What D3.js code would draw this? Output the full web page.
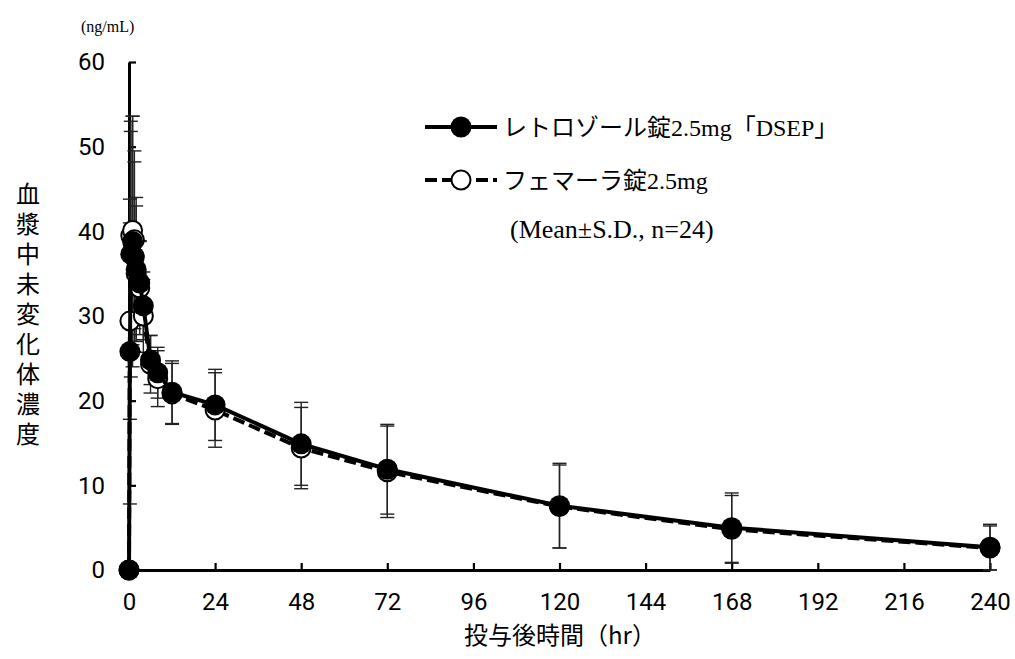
<!DOCTYPE html>
<html>
<head>
<meta charset="utf-8">
<script src="https://cdn.jsdelivr.net/npm/d3@7.9.0/dist/d3.min.js"></script>
<style>
  body { margin: 0; background: #fff; }
  svg { display: block; }
</style>
</head>
<body>
<svg id="chart" width="1015" height="659"></svg>
<script>
// sampling times (hr)
const times = [0, 0.25, 0.5, 1, 1.5, 2, 3, 4, 6, 8, 12, 24, 48, 72, 120, 168, 240];
// レトロゾール錠2.5mg「DSEP」
const dsepMean = [0, 25.8, 37.3, 38.8, 37.0, 35.5, 33.9, 31.2, 24.8, 23.3, 21.0, 19.5, 14.9, 11.9, 7.6, 5.0, 2.7];
const dsepSD   = [0, 18.0, 14.5, 14.8, 11.2, 8.5, 5.0, 4.0, 2.9, 3.0, 3.7, 4.2, 4.9, 5.3, 5.0, 4.1, 2.7];
// フェマーラ錠2.5mg
const femMean = [0, 29.4, 39.5, 40.1, 39.0, 35.0, 33.3, 30.0, 24.3, 22.6, 20.8, 18.9, 14.4, 11.6, 7.5, 4.8, 2.6];
const femSD   = [0, 11.6, 13.5, 13.5, 10.5, 8.0, 5.5, 4.3, 3.4, 3.3, 3.6, 4.4, 4.8, 5.4, 4.9, 4.0, 2.6];

const xTicks = [0, 24, 48, 72, 96, 120, 144, 168, 192, 216, 240];
const yTicks = [0, 10, 20, 30, 40, 50, 60];
const seriesNames = ['レトロゾール錠2.5mg「DSEP」', 'フェマーラ錠2.5mg'];

const svg = d3.select('#chart');
const x = d3.scaleLinear().domain([0, 240]).range([129, 990]);
const y = d3.scaleLinear().domain([0, 60]).range([570, 62]);

const latin = "Roboto, 'Liberation Sans', Arial, sans-serif";
const serif = "'Liberation Serif', 'Noto Sans CJK JP', serif";
const cjk = "'Noto Sans CJK JP', sans-serif";

// axes (ticks pointing inward)
const xAxis = svg.append('g')
  .attr('transform', `translate(0,${y(0)})`)
  .call(d3.axisBottom(x).tickValues(xTicks).tickSizeInner(-7).tickSizeOuter(0).tickPadding(23));
const yAxis = svg.append('g')
  .attr('transform', `translate(${x(0)},0)`)
  .call(d3.axisLeft(y).tickValues(yTicks).tickSizeInner(-7).tickSizeOuter(0).tickPadding(24));

[xAxis, yAxis].forEach(g => {
  g.select('.domain').attr('stroke', '#000').attr('stroke-width', 3);
  g.selectAll('.tick line').attr('stroke', '#000').attr('stroke-width', 2.2);
  g.selectAll('.tick text').attr('fill', '#000').style('font-family', latin).style('font-size', '24px');
});

// error bars
function drawErrors(mean, sd) {
  const g = svg.append('g').attr('stroke', '#222').attr('stroke-width', 1.4).attr('fill', 'none');
  times.forEach((t, i) => {
    if (sd[i] <= 0) return;
    const cx = x(t), top = y(mean[i] + sd[i]), bot = y(Math.max(0, mean[i] - sd[i]));
    g.append('line').attr('x1', cx).attr('x2', cx).attr('y1', top).attr('y2', bot);
    g.append('line').attr('x1', cx - 7).attr('x2', cx + 7).attr('y1', top).attr('y2', top);
    g.append('line').attr('x1', cx - 7).attr('x2', cx + 7).attr('y1', bot).attr('y2', bot);
  });
}
drawErrors(femMean, femSD);
drawErrors(dsepMean, dsepSD);

const line = d3.line().x(d => x(d[0])).y(d => y(d[1]));

// Femara: dashed line, open circles
svg.append('path')
  .datum(times.map((t, i) => [t, femMean[i]]))
  .attr('d', line).attr('fill', 'none').attr('stroke', '#000')
  .attr('stroke-width', 4).attr('stroke-dasharray', '12,5');
svg.append('g').selectAll('circle')
  .data(times.map((t, i) => [t, femMean[i]]))
  .join('circle')
  .attr('cx', d => x(d[0])).attr('cy', d => y(d[1])).attr('r', 9.5)
  .attr('fill', '#fff').attr('stroke', '#000').attr('stroke-width', 2);

// DSEP: solid line, filled circles
svg.append('path')
  .datum(times.map((t, i) => [t, dsepMean[i]]))
  .attr('d', line).attr('fill', 'none').attr('stroke', '#000').attr('stroke-width', 4);
svg.append('g').selectAll('circle')
  .data(times.map((t, i) => [t, dsepMean[i]]))
  .join('circle')
  .attr('cx', d => x(d[0])).attr('cy', d => y(d[1])).attr('r', 10.5)
  .attr('fill', '#000');

// legend
const leg = svg.append('g');
leg.append('line').attr('x1', 425).attr('x2', 497).attr('y1', 127).attr('y2', 127)
  .attr('stroke', '#000').attr('stroke-width', 4);
leg.append('circle').attr('cx', 461).attr('cy', 127).attr('r', 10.5).attr('fill', '#000');
leg.append('text').attr('x', 503).attr('y', 136).text(seriesNames[0])
  .style('font-family', serif).style('font-size', '24px');

leg.append('line').attr('x1', 425).attr('x2', 497).attr('y1', 180).attr('y2', 180)
  .attr('stroke', '#000').attr('stroke-width', 4).attr('stroke-dasharray', '12,5');
leg.append('circle').attr('cx', 461).attr('cy', 180).attr('r', 9.5)
  .attr('fill', '#fff').attr('stroke', '#000').attr('stroke-width', 2);
leg.append('text').attr('x', 503).attr('y', 189).text(seriesNames[1])
  .style('font-family', serif).style('font-size', '24px');

svg.append('text').attr('x', 510).attr('y', 238).text('(Mean±S.D., n=24)')
  .style('font-family', serif).style('font-size', '26px');

// unit label
svg.append('text').attr('x', 81).attr('y', 32).text('(ng/mL)')
  .style('font-family', serif).style('font-size', '16px');

// axis titles
svg.append('text').attr('x', 560).attr('y', 644).attr('text-anchor', 'middle')
  .text('投与後時間（hr）').style('font-family', cjk).style('font-size', '24px');

// vertical y title, one text element
svg.append('text')
  .attr('x', 28).attr('y', 182)
  .style('writing-mode', 'vertical-rl')
  .style('letter-spacing', '6px')
  .style('font-family', cjk).style('font-size', '24px')
  .text('血漿中未変化体濃度');
</script>
</body>
</html>
